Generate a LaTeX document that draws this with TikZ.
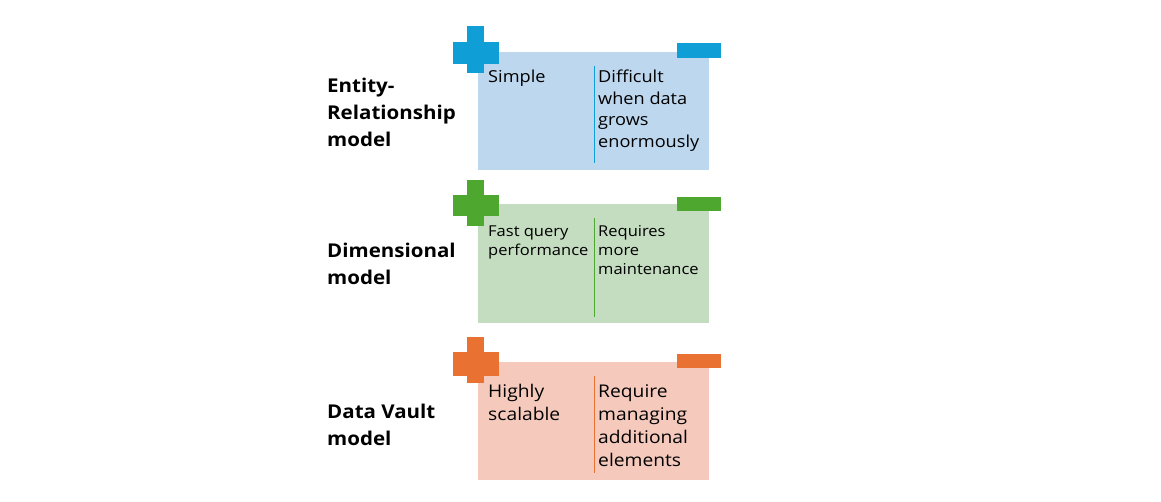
\documentclass[tikz,border=0pt]{standalone}
\usepackage{fontspec}
\setmainfont{Open Sans}[FakeStretch=1.1]
\newfontfamily\labelfont{Open Sans}[FakeStretch=1.08]
\definecolor{cblue}{HTML}{0F9ED5}
\definecolor{fblue}{HTML}{BDD7EE}
\definecolor{cgreen}{HTML}{4EA72E}
\definecolor{fgreen}{HTML}{C4DDC0}
\definecolor{corange}{HTML}{E97132}
\definecolor{forange}{HTML}{F5CABD}
\tikzset{
  label/.style={anchor=base west, inner sep=0pt, align=left, font=\labelfont\fontsize{19}{27}\selectfont\bfseries},
  cell/.style={anchor=base west, inner sep=0pt, align=left},
}
\begin{document}
\begin{tikzpicture}[x=1pt,y=-1pt]
\useasboundingbox (0,0) rectangle (1161,502);
\fill[white] (0,0) rectangle (1161,502);
% ---- panel 1 (base anchor = last line)
\fill[fblue] (478,52) rectangle (709,170);
\fill[cblue] (453,42) rectangle (499,64);
\fill[cblue] (467,26) rectangle (484,73);
\fill[cblue] (677,43) rectangle (721,58);
\coordinate (d1a) at (594,66);
\coordinate (d1b) at (594,163);
\draw[cblue, line width=1pt] (d1a) -- (d1b);
\node[label] (l1) at (327,147) {Entity-\\Relationship\\model};
\node[cell, font=\fontsize{16.5}{21.5}\selectfont] (p1) at (488,83) {Simple};
\node[cell, font=\fontsize{16.5}{21.5}\selectfont] (m1) at (598,147.5) {Difficult\\when data\\grows\\enormously};
% ---- panel 2
\fill[fgreen] (478,204) rectangle (709,323);
\fill[cgreen] (453,195) rectangle (499,216);
\fill[cgreen] (467,180) rectangle (484,226);
\fill[cgreen] (677,197) rectangle (721,211);
\coordinate (d2a) at (594,218);
\coordinate (d2b) at (594,317);
\draw[cgreen, line width=1pt] (d2a) -- (d2b);
\node[label] (l2) at (327,284.5) {Dimensional\\model};
\node[cell, font=\fontsize{15}{19}\selectfont] (p2) at (488,256) {Fast query\\performance};
\node[cell, font=\fontsize{15}{19}\selectfont] (m2) at (598,275) {Requires\\more\\maintenance};
% ---- panel 3
\fill[forange] (478,362) rectangle (709,480);
\fill[corange] (453,352) rectangle (499,376);
\fill[corange] (467,337) rectangle (484,383);
\fill[corange] (677,354) rectangle (721,368);
\coordinate (d3a) at (594,376);
\coordinate (d3b) at (594,473);
\draw[corange, line width=1pt] (d3a) -- (d3b);
\node[label] (l3) at (327,445) {Data Vault\\model};
\node[cell, font=\fontsize{17.5}{23}\selectfont] (p3) at (488,420) {Highly\\scalable};
\node[cell, font=\fontsize{17.5}{23}\selectfont] (m3) at (598,466) {Require\\managing\\additional\\elements};
\end{tikzpicture}
\end{document}
